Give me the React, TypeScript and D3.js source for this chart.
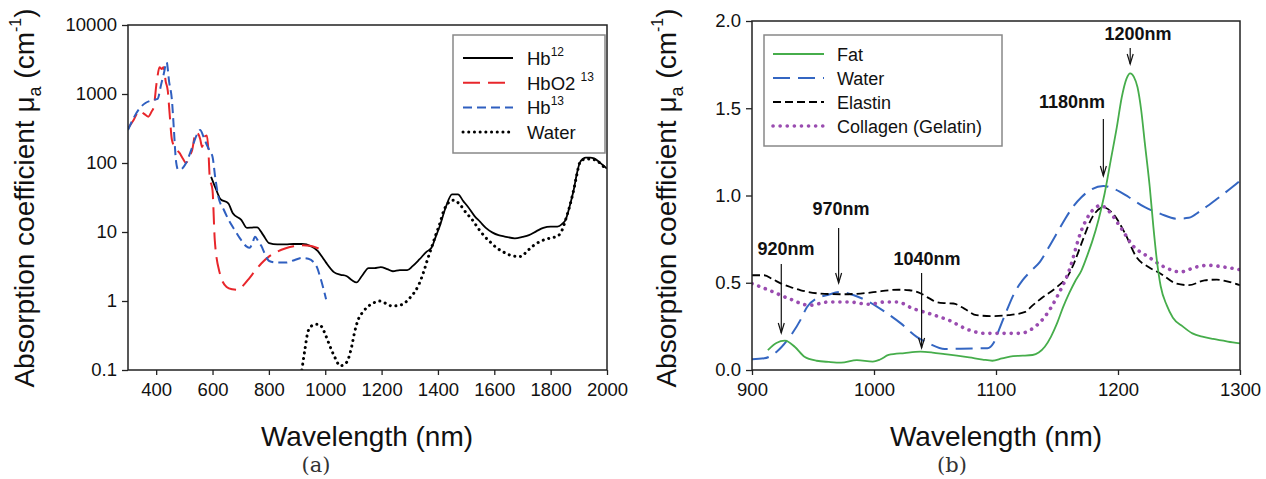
import React, { useEffect, useRef } from "react";
import * as d3 from "d3";

// ---- panel (a): log scale spectra, [wavelength nm, mu_a cm^-1]
const hb12 = [
  [595, 63], [612, 42], [628, 30], [656, 26], [672, 18.7], [702, 15], [722, 11.5], [740, 11.6],
  [758, 11.7], [780, 9], [801, 6.9], [830, 6.6], [859, 6.6], [888, 6.7], [917, 6.7], [950, 6.2],
  [974, 5.3], [990, 4.3], [1003, 3.6], [1032, 2.6], [1055, 2.4], [1075, 2.3], [1095, 2.0], [1111, 1.86],
  [1130, 2.3], [1154, 3.0], [1175, 3.0], [1197, 3.1], [1220, 2.9], [1240, 2.7], [1265, 2.8],
  [1291, 2.8], [1310, 3.2], [1334, 4.0], [1360, 5.2], [1377, 5.9], [1392, 8.5], [1406, 12],
  [1428, 23], [1450, 35], [1471, 35], [1490, 28], [1507, 23], [1530, 17], [1550, 14], [1570, 11.5],
  [1594, 9.8], [1615, 9.0], [1637, 8.6], [1673, 8.1], [1700, 8.5], [1723, 9], [1750, 10.3],
  [1774, 11.5], [1800, 12], [1824, 12], [1840, 13], [1853, 15], [1868, 24], [1882, 41],
  [1893, 70], [1903, 100], [1915, 115], [1925, 120], [1940, 120], [1954, 117], [1970, 105],
  [1983, 95], [2000, 83],
];
const hbo2 = [
  [300, 316], [320, 420], [340, 570], [356, 520], [372, 470], [384, 560], [391, 640], [402, 1500],
  [412, 2450], [420, 2300], [426, 2450], [434, 1500], [441, 1130], [448, 500], [456, 215],
  [470, 160], [484, 138], [495, 115], [506, 100], [518, 125], [528, 155], [538, 260], [542, 280],
  [556, 225], [563, 170], [571, 240], [580, 250], [585, 160], [590, 63], [600, 40], [608, 7.6],
  [625, 2.6], [650, 1.6], [670, 1.48], [690, 1.45], [710, 1.7], [729, 2.1], [750, 2.7],
  [773, 3.5], [800, 4.4], [830, 5.2], [860, 5.8], [888, 6.2], [920, 6.4], [945, 6.3],
  [975, 5.8], [1003, 5.3],
];
const hb13 = [
  [300, 300], [320, 450], [340, 610], [362, 740], [384, 810], [405, 850], [418, 1400], [427, 1960],
  [437, 2900], [446, 1500], [456, 810], [463, 300], [470, 110], [478, 80], [490, 82], [506, 100],
  [528, 170], [545, 260], [556, 300], [568, 240], [578, 190], [590, 150], [600, 123], [610, 60],
  [621, 32], [640, 21], [657, 15], [680, 10.5], [700, 7.8], [720, 6.2], [732, 5.9], [742, 7],
  [751, 8.5], [762, 7.4], [773, 6.3], [786, 4.8], [801, 3.8], [830, 3.6], [859, 3.6], [890, 3.9],
  [917, 4.2], [940, 4.1], [960, 3.6], [972, 3.0], [981, 2.3], [992, 1.6], [1003, 1.06],
];
const waterA = [
  [917, 0.1], [928, 0.2], [938, 0.35], [950, 0.43], [967, 0.46], [978, 0.46], [988, 0.42],
  [1000, 0.33], [1017, 0.22], [1035, 0.15], [1053, 0.115], [1068, 0.12], [1082, 0.145],
  [1094, 0.22], [1104, 0.35], [1118, 0.55], [1132, 0.68], [1147, 0.8], [1170, 0.93], [1191, 1.0],
  [1205, 0.97], [1219, 0.9], [1235, 0.85], [1248, 0.85], [1262, 0.87], [1277, 0.9], [1290, 1.0],
  [1306, 1.18], [1320, 1.4], [1334, 1.8], [1350, 2.7], [1363, 4.0], [1377, 5.9], [1392, 9],
  [1406, 13], [1420, 20], [1435, 26], [1457, 29], [1478, 25], [1500, 19], [1522, 15], [1545, 11],
  [1565, 8.7], [1588, 7], [1608, 5.9], [1630, 5.2], [1651, 4.7], [1675, 4.45], [1695, 4.4],
  [1715, 5.2], [1738, 6.3], [1760, 7.2], [1781, 7.8], [1800, 8.2], [1824, 8.7], [1840, 10.5],
  [1853, 15], [1868, 24], [1882, 41], [1893, 68], [1903, 100], [1915, 112], [1925, 115],
  [1945, 113], [1961, 110], [1980, 95], [2000, 79],
];

// ---- panel (b): linear scale spectra
const fat = [
  [913, 0.114], [920, 0.155], [927, 0.168], [935, 0.133], [943, 0.076], [953, 0.053], [963, 0.046],
  [973, 0.042], [986, 0.057], [999, 0.048], [1005, 0.06], [1012, 0.086], [1025, 0.097],
  [1038, 0.105], [1048, 0.1], [1058, 0.091], [1068, 0.082], [1078, 0.072], [1089, 0.06],
  [1097, 0.053], [1105, 0.066], [1114, 0.08], [1122, 0.082], [1130, 0.086], [1135, 0.1],
  [1140, 0.133], [1145, 0.19], [1150, 0.267], [1155, 0.36], [1160, 0.44], [1165, 0.51],
  [1170, 0.57], [1175, 0.66], [1179, 0.74], [1184, 0.86], [1189, 1.01], [1194, 1.2], [1199, 1.39],
  [1203, 1.56], [1207, 1.67], [1210, 1.7], [1213, 1.68], [1216, 1.62], [1219, 1.49], [1222, 1.3],
  [1226, 1.05], [1229, 0.82], [1232, 0.62], [1235, 0.48], [1240, 0.37], [1245, 0.3], [1253, 0.25],
  [1261, 0.21], [1270, 0.19], [1278, 0.178], [1290, 0.163], [1300, 0.152],
];
const waterB = [
  [900, 0.062], [910, 0.067], [920, 0.103], [931, 0.19], [940, 0.29], [945, 0.36], [953, 0.41],
  [962, 0.43], [972, 0.447], [983, 0.43], [996, 0.39], [1009, 0.333], [1022, 0.267], [1035, 0.19],
  [1045, 0.152], [1058, 0.12], [1071, 0.122], [1084, 0.124], [1093, 0.125], [1098, 0.155],
  [1103, 0.24], [1109, 0.344], [1115, 0.44], [1122, 0.516], [1129, 0.57], [1136, 0.62],
  [1143, 0.7], [1150, 0.785], [1157, 0.87], [1163, 0.934], [1170, 0.99], [1177, 1.03],
  [1188, 1.055], [1196, 1.04], [1209, 0.99], [1222, 0.933], [1235, 0.895], [1248, 0.867],
  [1258, 0.872], [1268, 0.914], [1281, 0.98], [1294, 1.05], [1300, 1.085],
];
const elastin = [
  [900, 0.543], [910, 0.543], [917, 0.52], [924, 0.495], [932, 0.474], [940, 0.457], [956, 0.438],
  [973, 0.434], [989, 0.438], [1002, 0.448], [1012, 0.457], [1020, 0.46], [1029, 0.457],
  [1038, 0.44], [1045, 0.412], [1051, 0.39], [1058, 0.383], [1065, 0.381], [1074, 0.352],
  [1084, 0.314], [1097, 0.309], [1110, 0.314], [1124, 0.333], [1130, 0.37], [1137, 0.41],
  [1150, 0.476], [1160, 0.552], [1165, 0.63], [1170, 0.724], [1179, 0.876], [1188, 0.933],
  [1196, 0.895], [1206, 0.78], [1215, 0.648], [1225, 0.59], [1235, 0.552], [1248, 0.495],
  [1258, 0.486], [1271, 0.514], [1281, 0.518], [1291, 0.505], [1300, 0.486],
];
const collagen = [
  [900, 0.495], [914, 0.457], [930, 0.41], [947, 0.371], [963, 0.39], [979, 0.39], [996, 0.377],
  [1009, 0.39], [1019, 0.39], [1032, 0.352], [1045, 0.324], [1061, 0.286], [1078, 0.229],
  [1091, 0.21], [1104, 0.21], [1120, 0.21], [1130, 0.238], [1140, 0.305], [1150, 0.419],
  [1160, 0.571], [1170, 0.8], [1179, 0.914], [1186, 0.943], [1192, 0.914], [1202, 0.819],
  [1212, 0.714], [1225, 0.648], [1238, 0.59], [1251, 0.562], [1264, 0.59], [1274, 0.6],
  [1287, 0.59], [1300, 0.575],
];

const logTicks = [0.1, 1, 10, 100, 1000, 10000];
const logTickLabels = ["0.1", "1", "10", "100", "1000", "10000"];
const xTicksA = [400, 600, 800, 1000, 1200, 1400, 1600, 1800, 2000];
const xTicksB = [900, 1000, 1100, 1200, 1300];
const yTicksB = [0, 0.5, 1, 1.5, 2];

const legendA = [
  { name: "Hb", sup: "12", color: "#000", dash: null, width: 1.8, cap: "butt" },
  { name: "HbO2 ", sup: "13", color: "#e8262b", dash: "17,8", width: 2, cap: "butt" },
  { name: "Hb", sup: "13", color: "#2f5fc0", dash: "9,5", width: 2, cap: "butt" },
  { name: "Water", sup: null, color: "#000", dash: "0.1,5.6", width: 3, cap: "round" },
];
const legendB = [
  { name: "Fat", color: "#46ad4b", dash: null, width: 1.8, cap: "butt" },
  { name: "Water", color: "#3466c2", dash: "17,8", width: 2, cap: "butt" },
  { name: "Elastin", color: "#000", dash: "8,4", width: 1.8, cap: "butt" },
  { name: "Collagen (Gelatin)", color: "#9a4cb0", dash: "0.1,7", width: 3.6, cap: "round" },
];

// annotations: label, wavelength, label y, arrow start y, arrow end y
const notes = [
  { label: "920nm", wl: 924, tx: 786, ty: 255, y1: 264, y2: 333 },
  { label: "970nm", wl: 971, tx: 841, ty: 215, y1: 228, y2: 283 },
  { label: "1040nm", wl: 1039, tx: 927, ty: 265, y1: 273, y2: 348 },
  { label: "1180nm", wl: 1188, tx: 1072, ty: 108, y1: 119, y2: 176 },
  { label: "1200nm", wl: 1210, tx: 1138, ty: 40, y1: 48, y2: 64 },
];

const FONT = "'Liberation Sans', Arial, Helvetica, sans-serif";
const SERIF = "'DejaVu Serif', 'Liberation Serif', serif";

function yTitle(g, x, y) {
  const t = g.append("text")
    .attr("transform", `translate(${x},${y}) rotate(-90)`)
    .attr("text-anchor", "middle")
    .attr("font-size", 28)
    .attr("fill", "#111");
  t.append("tspan").text("Absorption coefficient \u03bc");
  t.append("tspan").attr("font-size", 18).attr("dy", 7).text("a");
  t.append("tspan").attr("dy", -7).text(" (cm");
  t.append("tspan").attr("font-size", 16).attr("dy", -13).text("-1");
  t.append("tspan").attr("dy", 13).text(")");
}

function App() {
  const ref = useRef(null);

  useEffect(() => {
    const svg = d3.select(ref.current);
    svg.selectAll("*").remove();
    svg.attr("font-family", FONT);

    // ================= panel (a)
    const xA = d3.scaleLinear().domain([300, 2000]).range([128, 607]);
    const yA = d3.scaleLog().domain([0.1, 10000]).range([370, 25]);

    svg.append("defs").append("clipPath").attr("id", "clipA")
      .append("rect").attr("x", 128).attr("y", 25).attr("width", 479).attr("height", 345);
    svg.select("defs").append("clipPath").attr("id", "clipB")
      .append("rect").attr("x", 752).attr("y", 21).attr("width", 488).attr("height", 349);

    const lineA = d3.line().x((d) => xA(d[0])).y((d) => yA(d[1])).curve(d3.curveMonotoneX);
    const gA = svg.append("g").attr("clip-path", "url(#clipA)");
    const seriesA = [[hb12, 0], [hbo2, 1], [hb13, 2], [waterA, 3]];
    seriesA.forEach(([data, i]) => {
      const s = legendA[i];
      gA.append("path")
        .attr("d", lineA(data))
        .attr("fill", "none")
        .attr("stroke", s.color)
        .attr("stroke-width", s.width)
        .attr("stroke-linecap", s.cap)
        .attr("stroke-dasharray", s.dash);
    });

    svg.append("rect").attr("x", 128).attr("y", 25).attr("width", 479).attr("height", 345)
      .attr("fill", "none").attr("stroke", "#222").attr("stroke-width", 1.5);

    const axA = svg.append("g").attr("transform", "translate(128,0)")
      .call(d3.axisLeft(yA).tickValues(logTicks).tickFormat((d, i) => logTickLabels[i]).tickSize(6).tickPadding(5));
    const axAx = svg.append("g").attr("transform", "translate(0,370)")
      .call(d3.axisBottom(xA).tickValues(xTicksA).tickFormat(d3.format("d")).tickSize(5).tickPadding(8));
    [axA, axAx].forEach((ax) => {
      ax.select(".domain").remove();
      ax.selectAll("line").attr("stroke", "#222").attr("stroke-width", 1.3);
      ax.selectAll("text").attr("font-size", 18.5).attr("fill", "#111").attr("font-family", FONT);
    });

    svg.append("text").attr("x", 367).attr("y", 446).attr("text-anchor", "middle")
      .attr("font-size", 28).attr("fill", "#111").text("Wavelength (nm)");
    yTitle(svg, 34, 198);
    svg.append("text").attr("x", 316).attr("y", 472).attr("text-anchor", "middle")
      .attr("font-family", SERIF).attr("font-size", 21)
      .attr("fill", "#333").text("(a)");

    // legend (a)
    svg.append("rect").attr("x", 453).attr("y", 35).attr("width", 152).attr("height", 118)
      .attr("fill", "#fff").attr("stroke", "#888").attr("stroke-width", 1.5);
    legendA.forEach((s, i) => {
      const cy = 58 + i * 24.7;
      svg.append("line").attr("x1", 463).attr("x2", 513).attr("y1", cy).attr("y2", cy)
        .attr("stroke", s.color).attr("stroke-width", s.width)
        .attr("stroke-linecap", s.cap).attr("stroke-dasharray", s.dash);
      const t = svg.append("text").attr("x", 527).attr("y", cy + 7).attr("font-size", 18.5).attr("fill", "#111");
      t.append("tspan").text(s.name);
      if (s.sup) t.append("tspan").attr("font-size", 12).attr("dy", -9).text(s.sup);
    });

    // ================= panel (b)
    const xB = d3.scaleLinear().domain([900, 1300]).range([752, 1240]);
    const yB = d3.scaleLinear().domain([0, 2]).range([370, 21]);
    const lineB = d3.line().x((d) => xB(d[0])).y((d) => yB(d[1])).curve(d3.curveMonotoneX);
    const gB = svg.append("g").attr("clip-path", "url(#clipB)");
    const seriesB = [[waterB, 1], [elastin, 2], [collagen, 3], [fat, 0]];
    seriesB.forEach(([data, i]) => {
      const s = legendB[i];
      gB.append("path")
        .attr("d", lineB(data))
        .attr("fill", "none")
        .attr("stroke", s.color)
        .attr("stroke-width", s.width)
        .attr("stroke-linecap", s.cap)
        .attr("stroke-dasharray", s.dash);
    });

    svg.append("rect").attr("x", 752).attr("y", 21).attr("width", 488).attr("height", 349)
      .attr("fill", "none").attr("stroke", "#222").attr("stroke-width", 1.5);

    const axB = svg.append("g").attr("transform", "translate(752,0)")
      .call(d3.axisLeft(yB).tickValues(yTicksB).tickFormat(d3.format(".1f")).tickSize(6).tickPadding(5));
    const axBx = svg.append("g").attr("transform", "translate(0,370)")
      .call(d3.axisBottom(xB).tickValues(xTicksB).tickFormat(d3.format("d")).tickSize(5).tickPadding(8));
    [axB, axBx].forEach((ax) => {
      ax.select(".domain").remove();
      ax.selectAll("line").attr("stroke", "#222").attr("stroke-width", 1.3);
      ax.selectAll("text").attr("font-size", 18.5).attr("fill", "#111").attr("font-family", FONT);
    });

    svg.append("text").attr("x", 996).attr("y", 446).attr("text-anchor", "middle")
      .attr("font-size", 28).attr("fill", "#111").text("Wavelength (nm)");
    yTitle(svg, 676, 198);
    svg.append("text").attr("x", 952).attr("y", 472).attr("text-anchor", "middle")
      .attr("font-family", SERIF).attr("font-size", 21)
      .attr("fill", "#333").text("(b)");

    // legend (b)
    svg.append("rect").attr("x", 764).attr("y", 35).attr("width", 238).attr("height", 111)
      .attr("fill", "#fff").attr("stroke", "#888").attr("stroke-width", 1.5);
    legendB.forEach((s, i) => {
      const cy = 54 + i * 24;
      svg.append("line").attr("x1", 773).attr("x2", 824).attr("y1", cy).attr("y2", cy)
        .attr("stroke", s.color).attr("stroke-width", s.width)
        .attr("stroke-linecap", s.cap).attr("stroke-dasharray", s.dash);
      svg.append("text").attr("x", 837).attr("y", cy + 7).attr("font-size", 18).attr("fill", "#111").text(s.name);
    });

    // annotations
    notes.forEach((n) => {
      const ax = xB(n.wl);
      svg.append("text").attr("x", n.tx).attr("y", n.ty).attr("text-anchor", "middle")
        .attr("font-size", 18).attr("font-weight", "bold").attr("fill", "#111").text(n.label);
      svg.append("line").attr("x1", ax).attr("x2", ax).attr("y1", n.y1).attr("y2", n.y2)
        .attr("stroke", "#111").attr("stroke-width", 1.2);
      svg.append("path")
        .attr("d", `M${ax - 3},${n.y2 - 10}L${ax},${n.y2}L${ax + 3},${n.y2 - 10}`)
        .attr("fill", "none").attr("stroke", "#111").attr("stroke-width", 1.2);
    });
  }, []);

  return (
    <svg
      ref={ref}
      width={1266}
      height={479}
      viewBox="0 0 1266 479"
      style={{ position: "absolute", left: 0, top: 0, background: "#fff" }}
    />
  );
}

export default App;
